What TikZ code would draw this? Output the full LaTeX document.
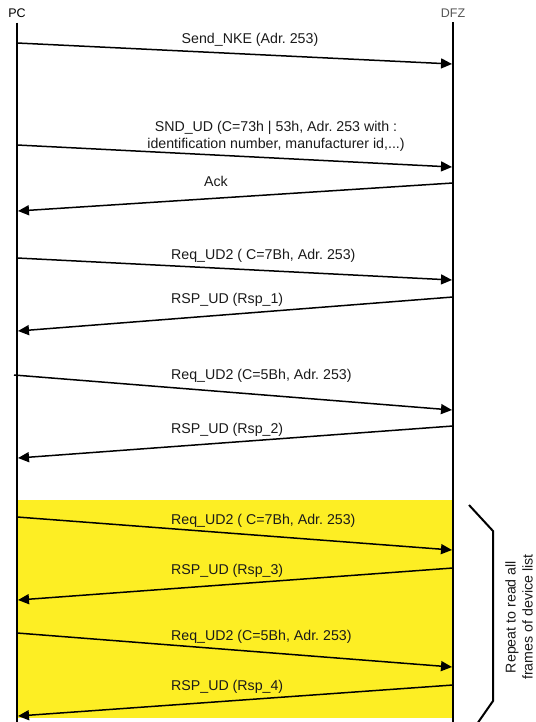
\documentclass[tikz,border=0pt]{standalone}
\usepackage{fontspec}
\setmainfont{Liberation Sans}
\usepackage{tikz}
\usetikzlibrary{positioning,arrows.meta}
\frenchspacing
\definecolor{sqYellow}{HTML}{FDEE24}
\definecolor{sqText}{HTML}{1A1A1A}
\definecolor{sqGrey}{HTML}{555555}
\tikzset{
  life/.style={line width=2pt, black},
  msg/.style={-{Triangle[length=11pt,width=10pt]}, line width=1.5pt, black},
  lbl/.style={font=\fontsize{14.2}{17}\selectfont, text=sqText, inner sep=0pt, align=center},
  party/.style={font=\fontsize{12.5}{14}\selectfont, inner sep=0pt},
  bracket/.style={line width=2pt, black},
}
\begin{document}
\begin{tikzpicture}[x=1pt,y=-1pt]
  \clip (0,0) rectangle (535,722);
  % repeated block
  \fill[sqYellow] (17,500) rectangle (453,718);
  % parties and lifelines
  \node[party] (pc) at (17,13) {PC};
  \node[party, text=sqGrey] (dfz) at (453,13) {DFZ};
  \coordinate (pcEnd) at (17,722);
  \coordinate (dfzEnd) at (453,722);
  \draw[life] (pc.south) ++(0,5) -- (pcEnd);
  \draw[life] (dfz.south) ++(0,5) -- (dfzEnd);
  % Send_NKE
  \coordinate (a1) at (17,43);  \coordinate (b1) at (452,64);
  \draw[msg] (a1) -- (b1);
  \node[lbl] (t1) at (250,40) {Send\_NKE (Adr. 253)};
  % SND_UD
  \coordinate (a2) at (17,145); \coordinate (b2) at (452,167);
  \draw[msg] (a2) -- (b2);
  \node[lbl] (t2) at (276,136) {SND\_UD (C=73h | 53h, Adr. 253 with :\\identification number, manufacturer id,...)};
  % Ack
  \coordinate (a3) at (453,183); \coordinate (b3) at (18,211);
  \draw[msg] (a3) -- (b3);
  \node[lbl] (t3) at (216,181) {Ack};
  % first read
  \coordinate (a4) at (17,258); \coordinate (b4) at (452,280);
  \draw[msg] (a4) -- (b4);
  \node[lbl, anchor=west] (t4) at (171,256) {Req\_UD2 ( C=7Bh, Adr. 253)};
  \coordinate (a5) at (453,297); \coordinate (b5) at (18,331);
  \draw[msg] (a5) -- (b5);
  \node[lbl, anchor=west] (t5) at (171,300) {RSP\_UD (Rsp\_1)};
  \coordinate (a6) at (14,375); \coordinate (b6) at (452,410);
  \draw[msg] (a6) -- (b6);
  \node[lbl, anchor=west] (t6) at (171,376) {Req\_UD2 (C=5Bh, Adr. 253)};
  \coordinate (a7) at (453,426); \coordinate (b7) at (18,458);
  \draw[msg] (a7) -- (b7);
  \node[lbl, anchor=west] (t7) at (171,430) {RSP\_UD (Rsp\_2)};
  % repeated read
  \coordinate (a8) at (17,517); \coordinate (b8) at (452,550);
  \draw[msg] (a8) -- (b8);
  \node[lbl, anchor=west] (t8) at (171,521) {Req\_UD2 ( C=7Bh, Adr. 253)};
  \coordinate (a9) at (453,568); \coordinate (b9) at (18,600);
  \draw[msg] (a9) -- (b9);
  \node[lbl, anchor=west] (t9) at (171,571) {RSP\_UD (Rsp\_3)};
  \coordinate (a10) at (17,633); \coordinate (b10) at (452,667);
  \draw[msg] (a10) -- (b10);
  \node[lbl, anchor=west] (t10) at (171,637) {Req\_UD2 (C=5Bh, Adr. 253)};
  \coordinate (a11) at (453,685); \coordinate (b11) at (18,716);
  \draw[msg] (a11) -- (b11);
  \node[lbl, anchor=west] (t11) at (171,687) {RSP\_UD (Rsp\_4)};
  % repeat bracket
  \draw[bracket] (469,505) -- (493,531) -- (493,701) -- (470,734);
  \node[lbl, rotate=90] (rep) at (519,617) {Repeat to read all\\frames of device list};
\end{tikzpicture}
\end{document}
